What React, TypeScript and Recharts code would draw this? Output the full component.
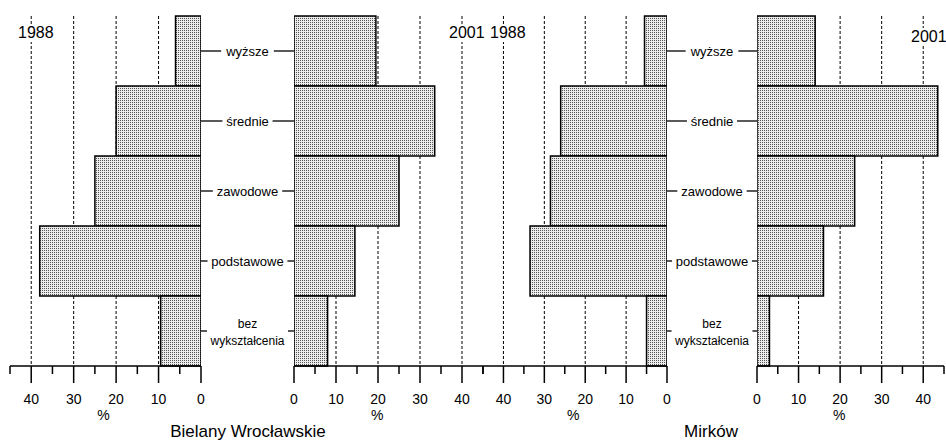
import React from 'react';
import { BarChart, Bar, XAxis, YAxis, CartesianGrid } from 'recharts';

// education level categories, top to bottom
const categories = ['wyższe', 'średnie', 'zawodowe', 'podstawowe', 'bez wykształcenia'];

// share of population, %
const bielany1988 = [6, 20, 25, 38, 9.5];
const bielany2001 = [19.5, 33.5, 25, 14.5, 8];
const mirkow1988 = [5.5, 26, 28.5, 33.5, 5];
const mirkow2001 = [14, 43.5, 23.5, 16, 3];

const xTicks = [0, 5, 10, 15, 20, 25, 30, 35, 40, 45];
const gridValues = [10, 20, 30, 40];

const FONT = '"Liberation Sans", Arial, sans-serif';

const toRows = (values: number[]) => categories.map((cat, i) => ({ cat, v: values[i] }));

const charW = (c: string) => ('iljłtfr'.includes(c) ? 0.27 : 'wm'.includes(c) ? 0.74 : 0.54);
const textWidth = (s: string, size: number) => s.split('').reduce((a, c) => a + charW(c), 0) * size;

const AxisTick = (props: any) => {
  const { x, y, payload } = props;
  const v = payload.value;
  const major = v % 10 === 0;
  return (
    <g>
      <line x1={x} x2={x} y1={y} y2={y + (major ? 17 : 8)} stroke="#000" strokeWidth={1.5} />
      {major && (
        <text x={x} y={y + 38} textAnchor="middle" fontSize={14} fontFamily={FONT} fill="#000">
          {v}
        </text>
      )}
    </g>
  );
};

const PctLabel = (props: any) => {
  const { viewBox, frac } = props;
  if (!viewBox) return null;
  return (
    <text x={viewBox.x + viewBox.width * frac} y={viewBox.y + 54} textAnchor="middle" fontSize={14} fontFamily={FONT} fill="#000">
      %
    </text>
  );
};

const CatTick = (props: any) => {
  const { x, y, payload, span } = props;
  const lines = String(payload.value).split(' ');
  const size = lines.length > 1 ? 12 : 13;
  const cx = x + span / 2;
  const w = Math.max(...lines.map((l) => textWidth(l, size)));
  const gap = lines.length > 1 ? 2 : 4;
  return (
    <g>
      <line x1={x} x2={cx - w / 2 - gap} y1={y} y2={y} stroke="#000" strokeWidth={1.3} />
      <line x1={cx + w / 2 + gap} x2={x + span} y1={y} y2={y} stroke="#000" strokeWidth={1.3} />
      <text x={cx} y={y} textAnchor="middle" fontSize={size} fontFamily={FONT} fill="#000">
        {lines.map((l, i) => (
          <tspan key={i} x={cx} dy={i === 0 ? (lines.length === 1 ? 4.5 : -3.5) : 17}>
            {l}
          </tspan>
        ))}
      </text>
    </g>
  );
};

type PanelProps = {
  values: number[];
  reversed?: boolean;
  left: number;
  width: number;
  margin: { top: number; right: number; bottom: number; left: number };
  labelSpan?: number;
  pctFrac: number;
};

const Panel = ({ values, reversed, left, width, margin, labelSpan, pctFrac }: PanelProps) => (
  <div style={{ position: 'absolute', left, top: 0 }}>
    <BarChart width={width} height={442} data={toRows(values)} layout="vertical" margin={margin} barCategoryGap={0}>
      <CartesianGrid horizontal={false} verticalValues={gridValues} stroke="#000" strokeDasharray="3 2" />
      <XAxis
        type="number"
        domain={[0, 45]}
        ticks={xTicks}
        interval={0}
        reversed={reversed}
        height={30}
        tickSize={0}
        tickMargin={0}
        tickLine={false}
        axisLine={{ stroke: '#000', strokeWidth: 1.5 }}
        tick={<AxisTick />}
        label={<PctLabel frac={pctFrac} />}
        allowDataOverflow
      />
      {labelSpan ? (
        <YAxis
          type="category"
          dataKey="cat"
          orientation="right"
          width={labelSpan}
          axisLine={false}
          tickLine={false}
          tickSize={0}
          tickMargin={0}
          interval={0}
          tick={<CatTick span={labelSpan} />}
        />
      ) : (
        <YAxis type="category" dataKey="cat" hide />
      )}
      <Bar dataKey="v" fill="url(#stipple)" stroke="#000" strokeWidth={1.5} isAnimationActive={false} />
    </BarChart>
  </div>
);

const yearStyle: React.CSSProperties = {
  position: 'absolute',
  fontFamily: FONT,
  fontSize: 16,
  lineHeight: '18px',
  background: '#fff',
  color: '#000',
  padding: '0 1px',
};

const titleStyle: React.CSSProperties = {
  position: 'absolute',
  fontFamily: FONT,
  fontSize: 17,
  lineHeight: '20px',
  width: 240,
  textAlign: 'center',
  color: '#000',
};

export default function App() {
  return (
    <div style={{ position: 'absolute', left: 0, top: 0, width: 946, height: 442, background: '#fff', overflow: 'hidden' }}>
      <svg width={0} height={0} style={{ position: 'absolute' }}>
        <defs>
          <pattern id="stipple" width={2} height={2} patternUnits="userSpaceOnUse">
            <rect width={2} height={2} fill="#ececec" />
            <rect x={0} y={0} width={1} height={1} fill="#555" />
          </pattern>
        </defs>
      </svg>

      <Panel values={bielany1988} reversed left={0} width={300} margin={{ top: 16, right: 6, bottom: 46, left: 10 }} labelSpan={93} pctFrac={0.49} />
      <Panel values={bielany2001} left={280} width={210} margin={{ top: 16, right: 7, bottom: 46, left: 14 }} pctFrac={0.44} />
      <Panel values={mirkow1988} reversed left={470} width={300} margin={{ top: 16, right: 13, bottom: 46, left: 13 }} labelSpan={90} pctFrac={0.49} />
      <Panel values={mirkow2001} left={740} width={206} margin={{ top: 16, right: 2, bottom: 46, left: 17 }} pctFrac={0.44} />

      <div style={{ ...yearStyle, left: 17, top: 24 }}>1988</div>
      <div style={{ ...yearStyle, left: 448, top: 24 }}>2001</div>
      <div style={{ ...yearStyle, left: 489, top: 24 }}>1988</div>
      <div style={{ ...yearStyle, left: 910, top: 28 }}>2001</div>

      <div style={{ ...titleStyle, left: 248 - 120, top: 422 }}>Bielany Wrocławskie</div>
      <div style={{ ...titleStyle, left: 711 - 120, top: 422 }}>Mirków</div>
    </div>
  );
}
